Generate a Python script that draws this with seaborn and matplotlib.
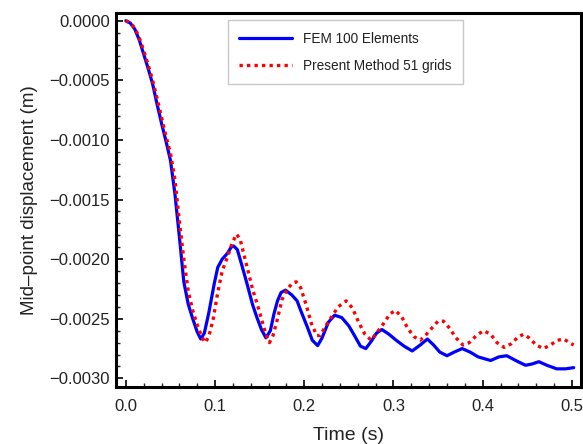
import matplotlib
matplotlib.use("Agg")
import matplotlib.pyplot as plt
from matplotlib.ticker import MultipleLocator, FuncFormatter
import numpy as np
import pandas as pd
import seaborn as sns

# ---- data ----
fem_t = [0.000, 0.005, 0.010, 0.015, 0.020, 0.025, 0.030, 0.035, 0.040, 0.045,
         0.050, 0.055, 0.060, 0.065, 0.070, 0.075, 0.080, 0.084, 0.088, 0.093,
         0.099, 0.103, 0.108, 0.114, 0.118, 0.121, 0.125, 0.130, 0.136, 0.142,
         0.147, 0.152, 0.157, 0.162, 0.166, 0.170, 0.174, 0.179, 0.186, 0.192,
         0.196, 0.2035, 0.209, 0.215, 0.220, 0.227, 0.234, 0.242, 0.250, 0.257,
         0.263, 0.269, 0.275, 0.281, 0.287, 0.295, 0.303, 0.312, 0.321, 0.330,
         0.338, 0.345, 0.352, 0.360, 0.368, 0.377, 0.386, 0.395, 0.409, 0.418,
         0.427, 0.437, 0.448, 0.455, 0.463, 0.472, 0.483, 0.493, 0.502]
fem_v = [0.0, -0.00002, -0.00007, -0.00016, -0.00028, -0.00040, -0.00053, -0.00070, -0.00086, -0.00101,
         -0.00117, -0.00145, -0.00181, -0.00219, -0.00238, -0.00250, -0.00261, -0.00267, -0.00262, -0.00245,
         -0.00221, -0.00207, -0.00200, -0.00195, -0.00190, -0.00189, -0.00192, -0.00205, -0.00221, -0.00238,
         -0.00249, -0.00259, -0.00266, -0.00260, -0.00246, -0.00235, -0.00228, -0.00226, -0.00230, -0.00235,
         -0.00243, -0.00257, -0.00268, -0.002725, -0.00266, -0.00253, -0.00247, -0.00249, -0.00256, -0.00265,
         -0.00273, -0.00275, -0.00269, -0.00262, -0.00259, -0.00263, -0.00268, -0.00273, -0.00277, -0.00272,
         -0.00267, -0.00272, -0.00278, -0.00281, -0.00278, -0.00275, -0.00278, -0.00282, -0.00285, -0.00282,
         -0.00281, -0.00285, -0.00289, -0.00288, -0.00286, -0.00289, -0.00292, -0.00292, -0.00291]

pm_t = [0.000, 0.005, 0.010, 0.015, 0.020, 0.025, 0.030, 0.035, 0.040, 0.045,
        0.050, 0.055, 0.060, 0.065, 0.070, 0.075, 0.080, 0.085, 0.089, 0.093,
        0.098, 0.103, 0.108, 0.114, 0.119, 0.124, 0.128, 0.132, 0.137, 0.142,
        0.147, 0.152, 0.157, 0.161, 0.165, 0.170, 0.175, 0.181, 0.187, 0.191,
        0.196, 0.202, 0.208, 0.214, 0.218, 0.224, 0.231, 0.238, 0.247, 0.254,
        0.261, 0.268, 0.275, 0.282, 0.289, 0.296, 0.302, 0.309, 0.316, 0.323,
        0.330, 0.337, 0.344, 0.350, 0.356, 0.363, 0.370, 0.378, 0.385, 0.393,
        0.401, 0.409, 0.416, 0.424, 0.432, 0.440, 0.446, 0.452, 0.460, 0.468,
        0.476, 0.484, 0.491, 0.497, 0.502]
pm_v = [0.0, -0.00002, -0.00006, -0.00014, -0.00025, -0.00037, -0.00050, -0.00065, -0.00081, -0.00097,
        -0.00111, -0.00133, -0.00168, -0.00200, -0.00227, -0.00243, -0.00255, -0.00265, -0.00270, -0.00265,
        -0.00250, -0.00228, -0.00210, -0.00198, -0.00187, -0.00179, -0.00183, -0.00195, -0.00210, -0.00225,
        -0.00237, -0.00250, -0.00263, -0.00270, -0.00264, -0.00250, -0.00234, -0.00225, -0.00220, -0.00219,
        -0.00224, -0.00238, -0.00254, -0.00264, -0.00264, -0.00256, -0.00248, -0.00240, -0.00235, -0.00241,
        -0.00253, -0.00263, -0.00268, -0.00261, -0.00254, -0.00246, -0.00243, -0.00248, -0.00258, -0.00265,
        -0.00268, -0.00263, -0.00257, -0.00252, -0.00252, -0.00258, -0.00266, -0.00272, -0.00270, -0.00264,
        -0.00260, -0.00263, -0.00270, -0.00274, -0.00271, -0.00265, -0.00263, -0.00266, -0.00272, -0.00275,
        -0.00272, -0.00268, -0.00267, -0.00270, -0.00272]

series_labels = ["FEM 100 Elements", "Present Method 51 grids"]
x_label = "Time (s)"
y_label = "Mid–point displacement (m)"

# ---- plotting ----
sns.set_style("white")
plt.rcParams["font.family"] = ["Liberation Sans", "DejaVu Sans"]

fig = plt.figure(figsize=(5.83, 4.44), dpi=100)
ax = fig.add_axes([0.199, 0.129, 0.798, 0.841])

df_fem = pd.DataFrame({"t": fem_t, "v": fem_v})
df_pm = pd.DataFrame({"t": pm_t, "v": pm_v})

sns.lineplot(data=df_fem, x="t", y="v", ax=ax, color="#0000ff", linewidth=2.3,
             estimator=None, sort=False, label=series_labels[0])
sns.lineplot(data=df_pm, x="t", y="v", ax=ax, color="#ff0000", linewidth=2.4,
             linestyle=(0, (1.0, 1.25)), dash_capstyle="butt",
             estimator=None, sort=False, label=series_labels[1])

ax.set_xlim(-0.011, 0.5105)
ax.set_ylim(-0.00307, 0.000062)

ax.xaxis.set_major_locator(MultipleLocator(0.1))
ax.xaxis.set_minor_locator(MultipleLocator(0.02))
ax.yaxis.set_major_locator(MultipleLocator(0.0005))
ax.yaxis.set_minor_locator(MultipleLocator(0.0001))
ax.xaxis.set_major_formatter(FuncFormatter(lambda v, p: f"{v:.1f}"))
ax.yaxis.set_major_formatter(FuncFormatter(lambda v, p: f"{v:.4f}".replace("-", "\u2212") if abs(v) > 1e-12 else "0.0000"))

ax.tick_params(axis="both", which="major", direction="in", length=5, width=1.2,
               labelsize=12, colors="black", labelcolor="#222222",
               left=True, bottom=True, top=False, right=False)
ax.tick_params(axis="both", which="minor", direction="in", length=3, width=1.0,
               left=True, bottom=True, top=False, right=False)
ax.tick_params(axis="x", which="major", pad=9)
ax.tick_params(axis="y", which="major", pad=4.5)

for s in ax.spines.values():
    s.set_visible(True)
    s.set_linewidth(2.2)
    s.set_color("black")

ax.set_xlabel(x_label, fontsize=14, color="#222222", labelpad=9)
ax.set_ylabel(y_label, fontsize=13.5, color="#222222", labelpad=8)

leg = ax.legend(loc="upper left", bbox_to_anchor=(0.240, 0.982), fontsize=9.8,
                frameon=True, fancybox=False, edgecolor="#c8c8c8", framealpha=1,
                handlelength=3.9, handletextpad=0.8, borderpad=0.85,
                labelspacing=0.95, borderaxespad=0)
leg.get_frame().set_linewidth(1.0)
for txt in leg.get_texts():
    txt.set_color("#222222")

fig.savefig("out.png", dpi=100)
